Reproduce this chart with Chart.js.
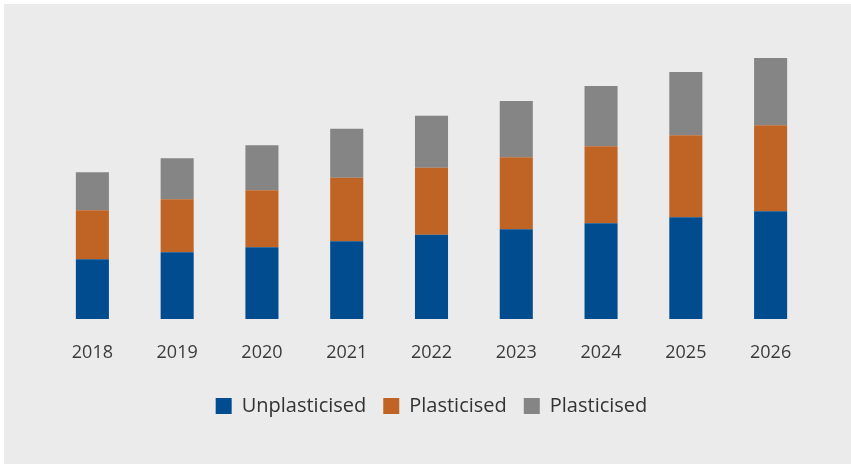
<!DOCTYPE html>
<html>
<head>
<meta charset="utf-8">
<script src="https://cdn.jsdelivr.net/npm/chart.js@4"></script>
<style>
  body { margin: 0; background: #fff; }
  #wrap { position: absolute; left: 4px; top: 4px; width: 847px; height: 460px; background: #ebebeb; }
</style>
</head>
<body>
<div id="wrap"><canvas id="myChart"></canvas></div>
<script>
// chart data
const years = ['2018', '2019', '2020', '2021', '2022', '2023', '2024', '2025', '2026'];
const unplasticised = [59.5, 66.5, 71.5, 77.5, 84, 89.5, 95.5, 101.5, 107.5];
const plasticised = [49, 53, 57, 63.5, 67, 72, 77, 82, 86];
const plasticised2 = [38, 41, 45, 49, 52, 56, 60, 63, 67];

Chart.defaults.font.family = '"Open Sans", sans-serif';
Chart.defaults.color = '#3a3a3a';

const ctx = document.getElementById('myChart').getContext('2d');
const myChart = new Chart(ctx, {
  type: 'bar',
  data: {
    labels: years,
    datasets: [{
      label: 'Unplasticised',
      data: unplasticised,
      backgroundColor: '#004c8e'
    }, {
      label: 'Plasticised',
      data: plasticised,
      backgroundColor: '#bf6424'
    }, {
      label: 'Plasticised',
      data: plasticised2,
      backgroundColor: '#858585'
    }]
  },
  options: {
    responsive: true,
    maintainAspectRatio: false,
    animation: false,
    datasets: {
      bar: { barPercentage: 0.39, categoryPercentage: 1 }
    },
    layout: {
      padding: { left: 46, right: 38, top: 14.5, bottom: 38 }
    },
    plugins: {
      tooltip: { enabled: false },
      legend: {
        position: 'bottom',
        labels: {
          boxWidth: 16,
          boxHeight: 16,
          padding: 17,
          font: { size: 20 },
          color: '#333'
        }
      }
    },
    scales: {
      x: {
        stacked: true,
        grid: { display: false },
        border: { display: false },
        ticks: { padding: 15.5, font: { size: 18 }, color: '#3a3a3a' },
        afterFit: function(scale) { scale.height -= 0.5; }
      },
      y: {
        stacked: true,
        display: false,
        min: 0,
        max: 300
      }
    }
  }
});
</script>
</body>
</html>
